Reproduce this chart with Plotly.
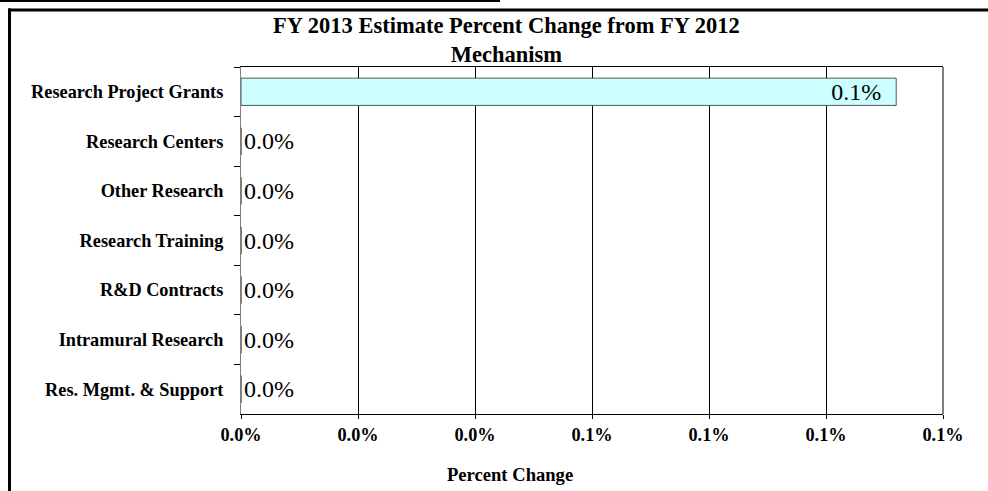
import plotly.graph_objects as go

categories = ["Research Project Grants", "Research Centers", "Other Research",
              "Research Training", "R&D Contracts", "Intramural Research",
              "Res. Mgmt. & Support"]
pct_change = [0.00112, 0.0, 0.0, 0.0, 0.0, 0.0, 0.0]
x_ticks = [0, 0.0002, 0.0004, 0.0006, 0.0008, 0.0010, 0.0012]
title_text = "FY 2013 Estimate Percent Change from FY 2012<br>Mechanism"
x_title = "Percent Change"

SERIF = "Liberation Serif, Times New Roman, serif"

# pixel geometry helpers (plot area 241..943 x, 67..414 y)
L, R, T, B = 241, 943, 67, 414
def px(x):
    return (x - L) / (R - L)
def py(y):
    return (B - y) / (B - T)

positions = ["inside" if v > 0 else "outside" for v in pct_change]

fig = go.Figure(go.Bar(
    x=pct_change, y=categories, orientation="h",
    marker=dict(color="#CCFFFF", line=dict(color="#555555", width=1)),
    width=0.55,
    texttemplate="%{x:.1%}\u00a0\u00a0", textposition=positions,
    insidetextanchor="end", constraintext="none", cliponaxis=False,
    textfont=dict(family=SERIF, size=24, color="black"),
    hoverinfo="skip",
))

fig.update_layout(
    width=988, height=491,
    margin=dict(l=L, r=988 - R, t=T, b=491 - B),
    paper_bgcolor="white", plot_bgcolor="white",
    showlegend=False,
    font=dict(family=SERIF, color="black"),
    xaxis=dict(
        range=[0, 0.0012], tickvals=x_ticks, tickformat=".1%",
        showgrid=True, gridcolor="black", gridwidth=1,
        zeroline=False, showline=True, linecolor="black", linewidth=1,
        mirror=True, ticks="outside", ticklen=4, tickcolor="black",
        tickfont=dict(family=SERIF, size=18.3, weight="bold", color="black"),
    ),
    yaxis=dict(
        categoryorder="array", categoryarray=categories, autorange="reversed",
        showgrid=False, zeroline=False, showline=True, linecolor="#808080",
        linewidth=1, ticks="outside", ticklen=6, tickcolor="black", tickwidth=1,
        tickson="boundaries", ticklabelstandoff=13,
        tickfont=dict(family=SERIF, size=18.3, weight="bold", color="black"),
    ),
    annotations=[
        dict(text=title_text, xref="paper", yref="paper", x=px(506), y=py(11),
             xanchor="center", yanchor="top", showarrow=False,
             font=dict(family=SERIF, size=22.5, weight="bold", color="black")),
        dict(text=x_title, xref="paper", yref="paper", x=px(510), y=py(474),
             xanchor="center", yanchor="middle", showarrow=False,
             font=dict(family=SERIF, size=18.6, weight="bold", color="black")),
    ],
    shapes=[
        # right border of plot area
        dict(type="line", xref="paper", yref="paper", x0=1, x1=1, y0=0, y1=1,
             line=dict(color="black", width=1)),
        # outer frame (top and left)
        dict(type="line", xref="paper", yref="paper", x0=px(8), x1=px(990),
             y0=py(10), y1=py(10), line=dict(color="black", width=3)),
        dict(type="line", xref="paper", yref="paper", x0=px(9.5), x1=px(9.5),
             y0=py(8.5), y1=py(495), line=dict(color="black", width=3)),
        # underline of the text above
        dict(type="line", xref="paper", yref="paper", x0=px(0), x1=px(500),
             y0=py(1), y1=py(1), line=dict(color="black", width=2)),
    ],
)

fig.write_html("out.html")
